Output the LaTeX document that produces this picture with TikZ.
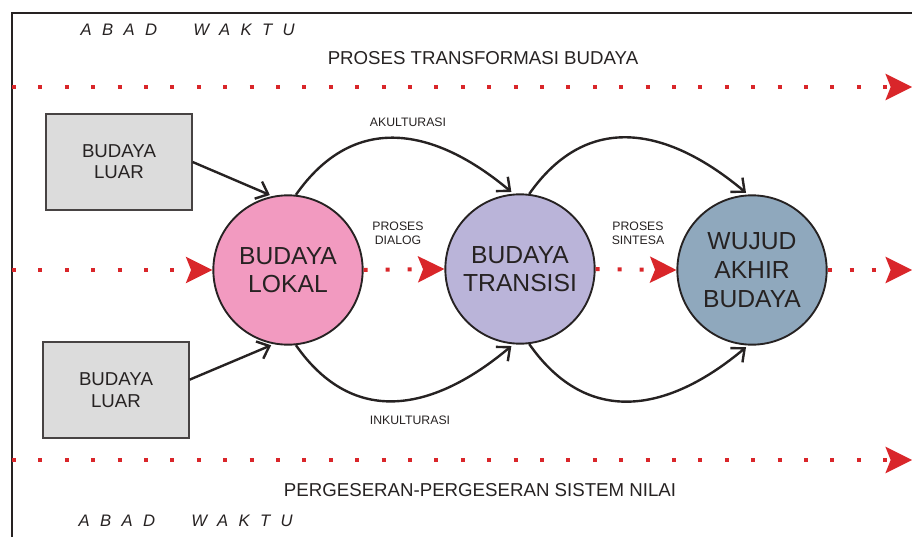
\documentclass[tikz,border=0pt]{standalone}
\usepackage{fontspec}
\setmainfont{Liberation Sans}
\usepackage{tikz}
\usepackage{xcolor}
\usetikzlibrary{arrows.meta, positioning, calc}
\definecolor{lokalpink}{HTML}{F29AC0}
\definecolor{transisiviolet}{HTML}{BAB4D9}
\definecolor{wujudblue}{HTML}{8FA8BD}
\definecolor{boxgray}{HTML}{DCDCDC}
\definecolor{dotred}{HTML}{D9262A}
\definecolor{inkdark}{HTML}{262222}

\begin{document}
\begin{tikzpicture}[x=0.75pt,y=0.75pt,
  circ/.style={circle, draw=inkdark, line width=1.4pt, minimum size=112pt, inner sep=0pt, align=center, text=inkdark, font=\fontsize{18.5}{21.5}\selectfont},
  luarbox/.style={rectangle, draw=inkdark!85, line width=1.5pt, fill=boxgray, minimum width=109pt, minimum height=72pt, align=center, text=inkdark, font=\fontsize{14}{16}\selectfont},
  lbl/.style={align=center, text=inkdark, font=\fontsize{9.2}{10.5}\selectfont},
  judul/.style={text=inkdark, font=\fontsize{14}{16}\selectfont},
  abad/.style={anchor=west, text=inkdark, font=\itshape\fontsize{12.5}{14}\selectfont\addfontfeature{LetterSpace=62}},
  arc/.style={draw=inkdark, line width=1.8pt, shorten >=2pt, -{Straight Barb[length=8pt,width=14pt]}},
  reddots/.style={draw=dotred, line width=3pt, dash pattern=on 3pt off #1, -{Stealth[length=20pt,width=20pt,inset=4pt,line width=0pt]}}]
\useasboundingbox (0,0) rectangle (912,537);
% frame
\draw[line width=2.2pt, inkdark] (12,0) -- (12,524) -- (912,524);
% titles
\node[abad] (abad1) at (76,507) {ABAD\hspace{16pt} WAKTU};
\node[abad] (abad2) at (74,16) {ABAD\hspace{16pt} WAKTU};
\node[judul] (proses) at (483,479) {PROSES TRANSFORMASI BUDAYA};
\node[judul] (geser) at (480,47) {PERGESERAN-PERGESERAN SISTEM NILAI};
% budaya
\node[circ, fill=lokalpink] (lokal) at (288,267) {BUDAYA\\LOKAL};
\node[circ, fill=transisiviolet] (transisi) at (520,268) {BUDAYA\\TRANSISI};
\node[circ, fill=wujudblue] (wujud) at (752,267) {WUJUD\\AKHIR\\BUDAYA};
\node[luarbox] (luar1) at (119,375) {BUDAYA\\LUAR};
\node[luarbox] (luar2) at (116,147) {BUDAYA\\LUAR};
% labels
\node[lbl] (akul) at (408,415) {AKULTURASI};
\node[lbl] (inkul) at (410,117) {INKULTURASI};
\node[lbl] (dialog) at (398,304) {PROSES\\DIALOG};
\node[lbl] (sintesa) at (638,304) {PROSES\\SINTESA};
% dotted time lines
\coordinate (t0) at (12,450);
\coordinate (t1) at (912,450);
\coordinate (m0) at (12,267);
\coordinate (m1) at (912,267);
\coordinate (b0) at (12,77);
\coordinate (b1) at (912,77);
\draw[reddots=16.8pt] (t0) -- (t1);
\draw[reddots=16.8pt] (b0) -- (b1);
\draw[reddots=16.8pt] (m0) -- (lokal.west);
\draw[reddots=13.5pt] (lokal.east) -- (transisi.west);
\draw[reddots=13.5pt] (transisi.east) -- (wujud.west);
\draw[reddots=13.5pt] (wujud.east) -- (m1);
% arrows
\draw[arc] (luar1.east) -- (lokal.102);
\draw[arc] (luar2.8) -- (lokal.259);
\draw[arc] (lokal.84) to[out=55, in=140, looseness=1.2] (transisi.95);
\draw[arc] (transisi.83) to[out=55, in=140, looseness=1.2] (wujud.93);
\draw[arc] (lokal.-84) to[out=-55, in=-140, looseness=1.2] (transisi.-95);
\draw[arc] (transisi.-83) to[out=-55, in=-140, looseness=1.2] (wujud.-93);
\end{tikzpicture}
\end{document}
